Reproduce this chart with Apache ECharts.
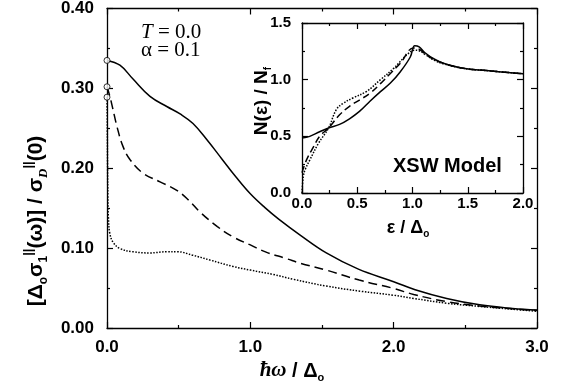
<!DOCTYPE html>
<html><head><meta charset="utf-8">
<script src="https://cdn.jsdelivr.net/npm/echarts@6/dist/echarts.min.js"></script>
<style>html,body{margin:0;padding:0;background:#fff}#c{width:564px;height:389px}</style>
</head><body><div id="c"></div>
<script>
// Main panel: conductivity vs frequency
const solidOmega = [0,0.09,0.18,0.30,0.42,0.51,0.60,0.70,0.80,0.90,1.00,1.10,1.20,1.35,1.53,1.75,2.00,2.15,2.37,2.60,2.83,3.00];
const solidSigma = [0.335,0.329,0.312,0.290,0.277,0.268,0.256,0.235,0.212,0.189,0.168,0.151,0.136,0.116,0.094,0.074,0.058,0.048,0.037,0.029,0.0245,0.0225];
const dashOmega = [0,0.02,0.04,0.07,0.11,0.16,0.25,0.37,0.49,0.57,0.65,0.77,0.88,1.00,1.11,1.25,1.35,1.53,1.76,2.00,2.14,2.37,2.60,2.83,3.00];
const dashSigma = [0.302,0.290,0.275,0.252,0.228,0.211,0.194,0.183,0.172,0.160,0.145,0.127,0.114,0.104,0.095,0.087,0.081,0.0725,0.060,0.0495,0.042,0.033,0.0275,0.024,0.022];
const dotOmega = [0,0.002,0.004,0.006,0.01,0.02,0.044,0.09,0.18,0.30,0.42,0.49,0.60,0.72,0.88,1.00,1.16,1.30,1.53,1.77,2.00,2.14,2.37,2.60,2.83,3.00];
const dotSigma = [0.289,0.25,0.20,0.165,0.138,0.118,0.107,0.0995,0.0955,0.094,0.0955,0.0955,0.091,0.085,0.077,0.0725,0.067,0.061,0.0525,0.046,0.041,0.037,0.031,0.027,0.0235,0.021];
const startSigma = [0.335,0.302,0.289];
// Inset: density of states
const inSolidEps = [0,0.07,0.16,0.24,0.34,0.43,0.52,0.615,0.71,0.80,0.89,0.98,1.02,1.06,1.11,1.20,1.28,1.46,1.67,2.00];
const inSolidN = [0.485,0.50,0.54,0.573,0.605,0.655,0.72,0.81,0.895,0.97,1.07,1.20,1.30,1.29,1.24,1.18,1.145,1.10,1.08,1.052];
const inDashEps = [0,0.04,0.10,0.16,0.24,0.34,0.43,0.52,0.615,0.71,0.80,0.89,1.01,1.06,1.11,1.20,1.28,1.46,1.67,2.00];
const inDashN = [0.18,0.29,0.40,0.50,0.573,0.69,0.765,0.82,0.88,0.965,1.055,1.145,1.28,1.27,1.23,1.175,1.145,1.10,1.08,1.052];
const inDotEps = [0,0.012,0.03,0.07,0.15,0.24,0.31,0.37,0.46,0.585,0.71,0.83,0.95,1.02,1.06,1.11,1.20,1.28,1.46,1.67,2.00];
const inDotN = [0,0.147,0.21,0.29,0.44,0.573,0.735,0.79,0.838,0.897,1.0,1.10,1.22,1.26,1.255,1.225,1.17,1.14,1.10,1.08,1.052];

const zip = (a,b) => a.map((v,i)=>[v,b[i]]);
const chart = echarts.init(document.getElementById('c'), null, {renderer:'canvas'});
const SANS = 'Liberation Sans';
const SERIF = 'Liberation Serif';
const lineBase = {type:'line', showSymbol:false, smooth:0.4, animation:false};
function axisCommon(extra){
  return Object.assign({
    type:'value',
    axisLine:{show:true, onZero:false, lineStyle:{color:'#000', width:1.3}},
    axisTick:{show:true, inside:true, length:6, lineStyle:{color:'#000', width:1.2}},
    minorTick:{show:true, splitNumber:2, length:3, lineStyle:{color:'#000', width:1.2}},
    splitLine:{show:false},
  }, extra);
}
const mainLbl = {color:'#000', fontFamily:SANS, fontSize:17, fontWeight:'bold'};
const insetLbl = {color:'#000', fontFamily:SANS, fontSize:15, fontWeight:'bold'};
const option = {
  backgroundColor:'#fff',
  animation:false,
  grid:[
    {left:107, top:8, right:27, bottom:61, show:false},
    {left:302, top:23, width:221, height:170, show:true, backgroundColor:'#fff', borderWidth:0, z:5}
  ],
  xAxis:[
    axisCommon({gridIndex:0, position:'bottom', min:0, max:3, interval:1,
      axisLabel:Object.assign({margin:11, formatter:v=>v.toFixed(1)}, mainLbl)}),
    axisCommon({gridIndex:0, position:'top', min:0, max:3, interval:1, axisLabel:{show:false}}),
    axisCommon({gridIndex:1, position:'bottom', min:0, max:2, interval:0.5, z:6,
      axisLabel:Object.assign({margin:3, formatter:v=>v.toFixed(1)}, insetLbl)}),
    axisCommon({gridIndex:1, position:'top', min:0, max:2, interval:0.5, z:6, axisLabel:{show:false}})
  ],
  yAxis:[
    axisCommon({gridIndex:0, position:'left', min:0, max:0.4, interval:0.1,
      axisLabel:Object.assign({margin:13, formatter:v=>v.toFixed(2)}, mainLbl)}),
    axisCommon({gridIndex:0, position:'right', min:0, max:0.4, interval:0.1, axisLabel:{show:false}}),
    axisCommon({gridIndex:1, position:'left', min:0, max:1.5, interval:0.5, z:6,
      axisLabel:Object.assign({margin:11, formatter:v=>v.toFixed(1)}, insetLbl)}),
    axisCommon({gridIndex:1, position:'right', min:0, max:1.5, interval:0.5, z:6, axisLabel:{show:false}})
  ],
  series:[
    Object.assign({}, lineBase, {xAxisIndex:0, yAxisIndex:0, data:zip(solidOmega, solidSigma),
      lineStyle:{color:'#000', width:1.5, type:'solid'}}),
    Object.assign({}, lineBase, {xAxisIndex:0, yAxisIndex:0, data:zip(dashOmega, dashSigma),
      lineStyle:{color:'#000', width:1.5, type:[9,5]}}),
    Object.assign({}, lineBase, {xAxisIndex:0, yAxisIndex:0, data:zip(dotOmega, dotSigma),
      lineStyle:{color:'#000', width:1.5, type:[1.5,1.5]}}),
    {type:'scatter', xAxisIndex:0, yAxisIndex:0, data:startSigma.map(v=>[0,v]), symbol:'circle', symbolSize:6,
      itemStyle:{color:'#fff', borderColor:'#000', borderWidth:1}, z:10, animation:false},
    Object.assign({}, lineBase, {xAxisIndex:2, yAxisIndex:2, z:7, data:zip(inSolidEps, inSolidN),
      lineStyle:{color:'#000', width:1.5, type:'solid'}}),
    Object.assign({}, lineBase, {xAxisIndex:2, yAxisIndex:2, z:7, data:zip(inDashEps, inDashN),
      lineStyle:{color:'#000', width:1.5, type:[7,4]}}),
    Object.assign({}, lineBase, {xAxisIndex:2, yAxisIndex:2, z:7, data:zip(inDotEps, inDotN),
      lineStyle:{color:'#000', width:1.5, type:[1.5,1.5]}})
  ],
  graphic:[
    {type:'text', left:141, top:22, z:20, style:{text:'{i|T} = 0.0', fill:'#000',
      font:'21px "'+SERIF+'"', rich:{i:{fontStyle:'italic', fontFamily:SERIF, fontSize:21}}}},
    {type:'text', left:141, top:40, z:20, style:{text:'α = 0.1', fill:'#000', font:'21px "'+SERIF+'"'}},
    {type:'text', left:393, top:156, z:20, style:{text:'XSW Model', fill:'#000', font:'bold 20px "'+SANS+'"'}},
    {type:'text', x:292, y:371, z:20, style:{text:'{i|ħω} / Δ{s|o}', fill:'#000', align:'center', verticalAlign:'middle',
      font:'bold 20px "'+SANS+'"', lineHeight:24,
      rich:{i:{fontFamily:SERIF, fontStyle:'italic', fontWeight:'bold', fontSize:21, lineHeight:24},
            s:{fontFamily:SANS, fontWeight:'bold', fontSize:11, lineHeight:11, verticalAlign:'bottom'}}}},
    {type:'text', x:408, y:228, z:20, style:{text:'ε / Δ{s|o}', fill:'#000', align:'center', verticalAlign:'middle',
      font:'bold 18px "'+SANS+'"', lineHeight:22,
      rich:{s:{fontFamily:SANS, fontWeight:'bold', fontSize:10, lineHeight:10, verticalAlign:'bottom'}}}},
    {type:'text', x:262, y:101, rotation:Math.PI/2, z:20, style:{text:'N(ε) / N{s|f}', fill:'#000', align:'center', verticalAlign:'middle',
      font:'bold 19px "'+SANS+'"', lineHeight:22,
      rich:{s:{fontFamily:SANS, fontWeight:'bold', fontSize:10, lineHeight:10, verticalAlign:'bottom'}}}},
    {type:'text', x:36, y:221, rotation:Math.PI/2, z:20, style:{
      text:'[Δ{s|o}σ{s|1}{p|||}(ω)] / σ{d|D}{p|||}(0)', fill:'#000', align:'center', verticalAlign:'middle',
      font:'bold 21px "'+SANS+'"', lineHeight:28,
      rich:{s:{fontFamily:SANS, fontWeight:'bold', fontSize:12, lineHeight:12, verticalAlign:'bottom'},
            d:{fontFamily:SERIF, fontStyle:'italic', fontWeight:'bold', fontSize:13, lineHeight:13, verticalAlign:'bottom'},
            p:{fontFamily:SANS, fontWeight:'bold', fontSize:13, lineHeight:13, verticalAlign:'top'}}}}
  ]
};
chart.setOption(option);
</script></body></html>
